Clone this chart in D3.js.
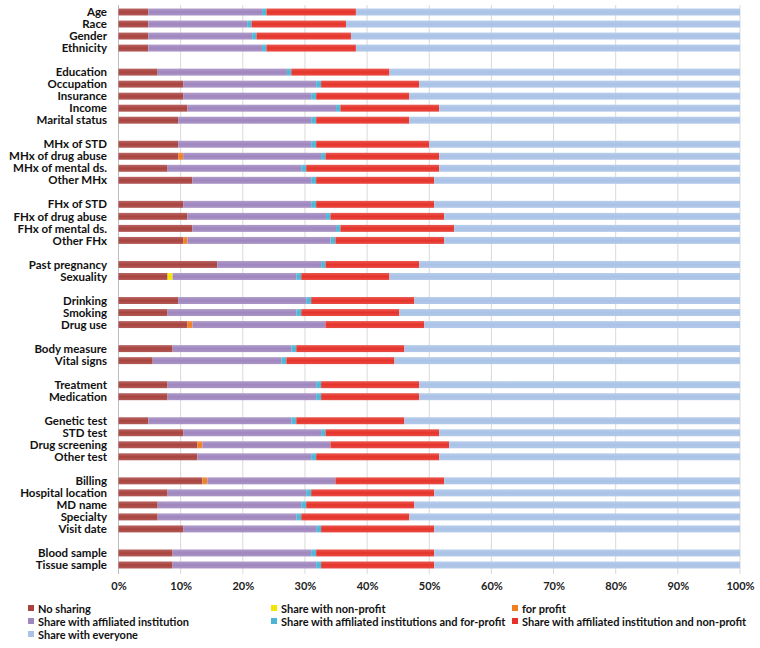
<!DOCTYPE html>
<html><head><meta charset="utf-8">
<script src="https://cdn.jsdelivr.net/npm/d3@7/dist/d3.min.js"></script>
<style>
body{margin:0;background:#fff;}
text{font-family:Lato,"Open Sans",Arial,sans-serif;}
</style></head>
<body><svg id="chart" width="760" height="648"></svg>
<script>
const categories = ["Age","Race","Gender","Ethnicity",
 "Education","Occupation","Insurance","Income","Marital status",
 "MHx of STD","MHx of drug abuse","MHx of mental ds.","Other MHx",
 "FHx of STD","FHx of drug abuse","FHx of mental ds.","Other FHx",
 "Past pregnancy","Sexuality",
 "Drinking","Smoking","Drug use",
 "Body measure","Vital signs",
 "Treatment","Medication",
 "Genetic test","STD test","Drug screening","Other test",
 "Billing","Hospital location","MD name","Specialty","Visit date",
 "Blood sample","Tissue sample"];
const groupSizes = [4,5,4,4,2,3,2,2,4,5,2];
const seriesNames = ["No sharing","Share with non-profit","for profit","Share with affiliated institution",
 "Share with affiliated institutions and for-profit","Share with affiliated institution and non-profit","Share with everyone"];
const seriesColors = ["#A8433F","#F2E600","#EE7E22","#9F86BE","#4DB4D6","#E5332A","#A9C2E6"];
// segment widths (%)
const noSharing   = [4.8,4.8,4.8,4.8, 6.3,10.4,10.4,11.1,9.6, 9.6,9.6,7.9,11.9, 10.4,11.1,11.9,10.4, 15.9,7.9, 9.6,7.9,11.1, 8.7,5.5, 7.9,7.9, 4.8,10.4,12.7,12.7, 13.5,7.9,6.3,6.3,10.4, 8.7,8.7];
const nonProfit   = [0,0,0,0, 0,0,0,0,0, 0,0,0,0, 0,0,0,0, 0,0.8, 0,0,0, 0,0, 0,0, 0,0,0,0, 0,0,0,0,0, 0,0];
const forProfit   = [0,0,0,0, 0,0,0,0,0, 0,0.8,0,0, 0,0,0,0.7, 0,0, 0,0,0.8, 0,0, 0,0, 0,0,0.8,0, 0.8,0,0,0,0, 0,0];
const affiliated  = [18.3,15.9,16.7,18.3, 20.8,21.4,20.6,23.9,21.4, 21.4,22.2,21.5,19.1, 20.6,22.3,23.1,23.0, 16.7,19.9, 20.6,20.7,21.4, 19.1,20.7, 23.9,23.9, 23.0,22.2,20.6,18.3, 20.6,22.3,23.1,22.3,21.4, 22.3,23.1];
const affilFP     = [0.7,0.7,0.7,0.7, 0.7,0.8,0.8,0.7,0.8, 0.8,0.7,0.8,0.8, 0.8,0.7,0.7,0.8, 0.7,0.8, 0.8,0.8,0, 0.8,0.8, 0.8,0.8, 0.8,0.7,0,0.8, 0,0.8,0.8,0.8,0.8, 0.8,0.8];
const affilNP     = [14.4,15.2,15.2,14.4, 15.8,15.8,15.0,15.9,15.0, 18.2,18.3,21.4,19.0, 19.0,18.3,18.3,17.5, 15.1,14.2, 16.6,15.8,15.9, 17.4,17.4, 15.8,15.8, 17.4,18.3,19.1,19.8, 17.5,19.8,17.4,17.4,18.2, 19.0,18.2];
const everyone = categories.map((c,i)=>100-(noSharing[i]+nonProfit[i]+forProfit[i]+affiliated[i]+affilFP[i]+affilNP[i]));
const xTicks = [0,10,20,30,40,50,60,70,80,90,100];

const seriesValues = [noSharing,nonProfit,forProfit,affiliated,affilFP,affilNP,everyone];
const rows = categories.map((c,i)=>{const o={cat:c}; seriesNames.forEach((s,j)=>o[s]=seriesValues[j][i]); return o;});
const stack = d3.stack().keys(seriesNames)(rows);

// slots including gaps between groups
const slots=[]; let k=0;
groupSizes.forEach((g,gi)=>{ if(gi>0) slots.push("__gap"+gi); for(let j=0;j<g;j++) slots.push(categories[k++]); });

const svg=d3.select("#chart");
const x=d3.scaleLinear().domain([0,100]).range([118.5,740]);
const y=d3.scaleBand().domain(slots).range([6,571]).paddingInner(0.42).paddingOuter(0.21);

// gradients
const defs=svg.append("defs");
seriesColors.forEach((c,i)=>{
  const g=defs.append("linearGradient").attr("id","g"+i).attr("x1",0).attr("x2",0).attr("y1",0).attr("y2",1);
  g.append("stop").attr("offset","0%").attr("stop-color",d3.interpolateRgb(c,"#fff")(0.18));
  g.append("stop").attr("offset","50%").attr("stop-color",c);
  g.append("stop").attr("offset","100%").attr("stop-color",d3.interpolateRgb(c,"#fff")(0.12));
});

// grid
svg.append("g").selectAll("line").data(xTicks).join("line")
 .attr("x1",d=>x(d)).attr("x2",d=>x(d)).attr("y1",5).attr("y2",574)
 .attr("stroke",d=>d===0?"#bdbdbd":"#d9d9d9").attr("stroke-width",1);

// bars
svg.append("g").selectAll("g").data(stack).join("g")
 .attr("fill",(d,i)=>"url(#g"+i+")")
 .selectAll("rect").data(d=>d).join("rect")
 .attr("x",d=>x(d[0])).attr("width",d=>Math.max(0,x(d[1])-x(d[0])))
 .attr("y",d=>y(d.data.cat)).attr("height",y.bandwidth());

// category labels
svg.append("g").selectAll("text").data(categories).join("text")
 .attr("x",107).attr("y",d=>y(d)+y.bandwidth()/2).attr("dy","0.36em")
 .attr("text-anchor","end").attr("font-size",11.5).attr("font-weight","bold").attr("fill","#111")
 .text(d=>d);

// x axis labels
const xAxis=d3.axisBottom(x).tickValues(xTicks).tickFormat(d=>d+"%").tickSize(0).tickPadding(0);
const ax=svg.append("g").attr("transform","translate(0,582)").call(xAxis);
ax.select(".domain").remove();
ax.selectAll("text").attr("font-size",11).attr("font-weight","bold").attr("fill","#222")
 .attr("font-family","Lato,'Open Sans',Arial,sans-serif");

// legend
const legPos=[[28,609],[271,609],[512,609],[28,622],[271,622],[512,622],[28,635]];
const lg=svg.append("g").selectAll("g").data(seriesNames).join("g")
 .attr("transform",(d,i)=>`translate(${legPos[i][0]},${legPos[i][1]})`);
lg.append("rect").attr("x",0).attr("y",-4).attr("width",6).attr("height",6).attr("fill",(d,i)=>seriesColors[i]);
lg.append("text").attr("x",10).attr("y",0).attr("dy","0.32em").attr("font-size",11).attr("font-weight","bold").attr("fill","#111").text(d=>d);
</script></body></html>
